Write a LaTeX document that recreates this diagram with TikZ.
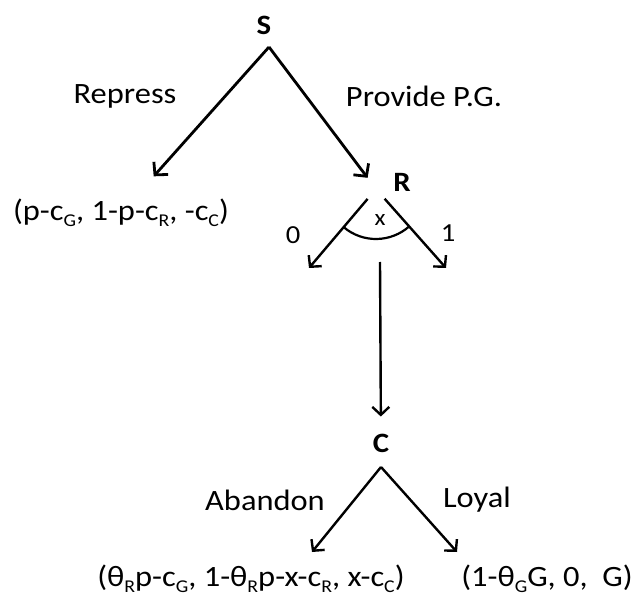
\documentclass[tikz,border=0pt]{standalone}
\usepackage{fontspec}
\setmainfont{Carlito}[FakeStretch=1.1]
\usetikzlibrary{arrows.meta}
\newcommand{\lowsub}[1]{\raisebox{-0.22em}{\fontsize{18}{18}\selectfont #1}}

\begin{document}
\begin{tikzpicture}[x=1pt,y=-1pt,
  every node/.style={inner sep=0pt},
  player/.style={font=\fontsize{28}{32}\selectfont\bfseries},
  act/.style={font=\fontsize{29.5}{34}\selectfont},
  pay/.style={font=\fontsize{29.5}{34}\selectfont},
  digit/.style={font=\fontsize{26}{30}\selectfont},
  topbranch/.style={line width=2.8pt,-{Straight Barb[length=9pt,width=19pt]}},
  branch/.style={line width=2.4pt,-{Straight Barb[length=8pt,width=17pt]}}]
  \useasboundingbox (0,0) rectangle (633,599);
  % state
  \node[player] (S) at (264,25) {S};
  \coordinate (Sfork) at (269,47);
  \node[act] (repress) at (125,96) {Repress};
  \node[act] (provide) at (424,96) {Provide P.G.};
  \node[pay] (payRep) at (121,213) {(p-c\lowsub{G}, 1-p-c\lowsub{R}, -c\lowsub{C})};
  \coordinate (Rfork) at (376,189);
  \draw[topbranch, shorten >=30pt] (Sfork) -- (payRep);
  \draw[topbranch, shorten >=14pt] (Sfork) -- (Rfork);
  % rebels
  \node[player] (R) at (402,182) {R};
  \coordinate (Rzero) at (309,268);
  \coordinate (Rone) at (446,268);
  \draw[branch, shorten <=13pt] (Rfork) -- (Rzero);
  \draw[branch, shorten <=13pt] (Rfork) -- (Rone);
  \draw[line width=2.2pt] ([shift={(130:50)}]Rfork) arc[start angle=130, end angle=48, radius=50];
  \node[digit] (zero) at (293,235) {0};
  \node[digit] (one) at (448,233) {1};
  \node[font=\fontsize{23}{26}\selectfont] (xlab) at (380,220) {x};
  % citizens
  \node[player] (C) at (381,443) {C};
  \coordinate (Rdown) at (380,262);
  \draw[branch, shorten >=17pt] (Rdown) -- (C);
  \coordinate (Cfork) at (381,467);
  \coordinate (Cab) at (312,552);
  \coordinate (Cloy) at (457,552);
  \draw[branch] (Cfork) -- (Cab);
  \draw[branch] (Cfork) -- (Cloy);
  \node[act] (abandon) at (265,500) {Abandon};
  \node[act] (loyal) at (477,500) {Loyal};
  \node[pay] (payAb) at (251,579) {(θ\lowsub{R}p-c\lowsub{G}, 1-θ\lowsub{R}p-x-c\lowsub{R}, x-c\lowsub{C})};
  \node[pay] (payLoy) at (547,579) {(1-θ\lowsub{G}G, 0,\ \ G)};
\end{tikzpicture}
\end{document}
